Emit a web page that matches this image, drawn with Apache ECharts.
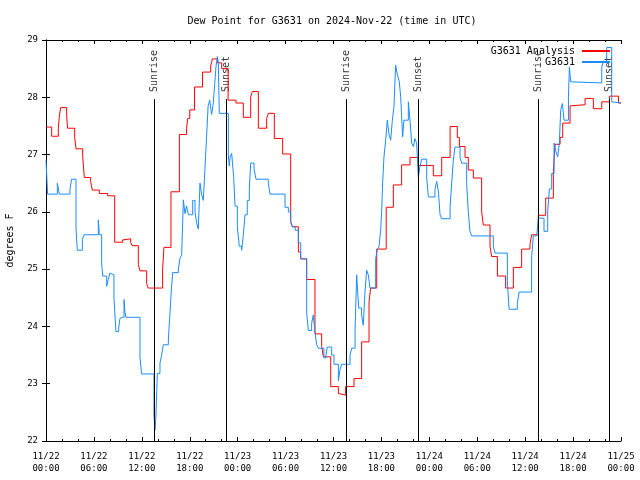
<!DOCTYPE html>
<html>
<head>
<meta charset="utf-8">
<script src="https://cdn.jsdelivr.net/npm/echarts@6/dist/echarts.min.js"></script>
<style>
html,body{margin:0;padding:0;background:#fff;}
#chart{width:640px;height:480px;}
</style>
</head>
<body>
<div id="chart"></div>
<script>
// ---- data (hours since 2024-11-22 00:00 UTC, dew point in °F) ----
const titleText = 'Dew Point for G3631 on 2024-Nov-22 (time in UTC)';
const seriesNames = ['G3631 Analysis', 'G3631'];
const xTickLabels = ['11/22\n00:00','11/22\n06:00','11/22\n12:00','11/22\n18:00',
  '11/23\n00:00','11/23\n06:00','11/23\n12:00','11/23\n18:00',
  '11/24\n00:00','11/24\n06:00','11/24\n12:00','11/24\n18:00','11/25\n00:00'];
const sunriseHours = [13.56, 37.6, 61.65];
const sunsetHours = [22.58, 46.62, 70.55];
const eventLineTop = 27.97;

const analysis = [
 [0,27.48],[0.71,27.32],[1.54,27.46],[1.67,27.67],[1.84,27.82],[2.59,27.67],[2.7,27.46],
 [3.59,27.3],[3.76,27.10],[4.59,26.97],[4.8,26.60],[5.59,26.53],[5.8,26.38],[6.68,26.32],
 [7.72,26.28],[8.6,25.47],[9.6,25.51],[9.77,25.53],[10.6,25.47],[10.77,25.41],[11.56,25.08],
 [11.77,24.97],[12.6,24.75],[12.8,24.67],[14.6,25.0],[14.77,25.38],[15.65,26.35],[16.7,27.35],
 [17.6,27.45],[17.74,27.63],[18.0,27.78],[18.6,28.18],[19.6,28.44],[20.62,28.55],[20.74,28.61],
 [20.83,28.67],[21.5,28.6],[22.0,28.5],[22.8,27.95],[23.79,27.9],[24.71,27.65],[25.63,28.01],
 [25.84,28.1],[26.59,27.46],[27.63,27.63],[27.84,27.72],[28.59,27.28],[29.63,27.01],[30.64,25.83],
 [30.85,25.74],[31.6,25.3],[31.89,25.18],[32.64,24.82],[33.68,23.87],[34.52,23.65],[34.73,23.47],
 [35.65,22.95],[36.61,22.83],[36.82,22.80],[37.52,22.95],[38.57,23.09],[39.52,23.73],[40.45,24.43],
 [40.65,24.67],[41.41,25.35],[42.6,26.08],[43.49,26.47],[44.53,26.82],[45.58,26.95],[46.62,26.81],
 [48.5,26.63],[49.55,26.95],[50.6,27.49],[51.5,27.3],[51.76,27.14],[52.47,26.95],[52.88,26.73],
 [53.51,26.59],[54.55,26.0],[54.76,25.77],[55.6,25.4],[55.8,25.22],[56.52,24.88],[57.56,24.67],
 [58.52,25.03],[59.56,25.35],[60.6,25.43],[60.81,25.6],[61.65,25.94],[62.57,26.24],[63.53,26.7],
 [63.74,27.18],[64.37,27.3],[64.7,27.55],[65.62,27.85],[65.83,27.87],[67.5,27.98],[68.54,27.8],
 [69.59,27.92],[70.55,28.02],[71.68,27.9],[72,27.9]
];

const observed = [
 [0,26.9],[0.2,26.31],[1.42,26.5],[1.67,26.31],[3.0,26.4],[3.21,26.57],[3.76,25.7],[3.92,25.33],
 [4.55,25.52],[4.76,25.6],[6.55,25.86],[6.68,25.6],[6.97,25.1],[7.1,24.88],[7.6,24.7],[7.8,24.82],
 [8.0,24.93],[8.22,24.9],[8.51,24.5],[8.76,23.91],[9.1,23.97],[9.26,24.14],[9.47,24.17],[9.77,24.47],
 [9.89,24.25],[10.0,24.16],[11.77,23.45],[11.98,23.17],[13.52,22.45],[13.65,22.19],[13.77,22.45],
 [13.94,23.18],[14.27,23.36],[14.48,23.5],[14.69,23.68],[15.32,23.76],[15.52,24.23],[15.73,24.7],
 [15.86,24.94],[16.57,25.0],[16.78,25.19],[16.99,25.25],[17.2,26.21],[17.4,25.97],[17.6,26.1],
 [17.83,25.95],[18.37,26.2],[18.66,26.0],[18.87,25.8],[19.07,25.7],[19.28,26.5],[19.49,26.3],
 [19.7,26.2],[19.9,26.75],[20.1,27.3],[20.3,27.85],[20.5,27.95],[20.74,27.7],[20.95,27.9],
 [21.16,28.3],[21.28,28.53],[21.45,28.71],[21.58,28.6],[21.7,27.72],[22.83,27.0],[22.95,26.8],
 [23.04,26.95],[23.25,27.02],[23.5,26.6],[23.67,26.1],[23.96,25.74],[24.2,25.4],[24.5,25.33],
 [24.71,25.6],[24.92,25.95],[25.2,26.2],[25.46,26.4],[25.63,26.85],[26.05,26.75],[26.3,26.57],
 [27.84,26.5],[28.05,26.31],[29.93,26.08],[30.35,26.0],[30.64,25.83],[30.85,25.74],[31.2,25.68],
 [31.6,25.46],[31.89,25.18],[32.64,24.23],[32.85,23.93],[33.26,24.05],[33.47,24.2],[33.68,23.9],
 [33.89,23.68],[34.1,23.62],[34.8,23.45],[35.06,23.5],[35.22,23.64],[35.77,23.5],[36.06,23.34],
 [36.61,23.05],[36.82,23.25],[37.03,23.34],[38.07,23.5],[38.28,23.62],[38.7,23.94],[38.9,24.9],
 [39.03,24.6],[39.16,24.32],[39.52,24.2],[39.73,24.02],[39.94,24.6],[40.15,24.98],[40.36,24.9],
 [40.57,24.67],[41.28,25.18],[41.49,25.35],[41.7,25.39],[41.9,25.68],[42.03,26.0],[42.15,26.5],
 [42.32,26.96],[42.53,27.25],[42.74,27.6],[42.95,27.35],[43.16,27.25],[43.37,27.6],[43.57,27.84],
 [43.78,28.56],[43.99,28.4],[44.24,28.27],[44.41,28.01],[44.66,27.31],[44.82,27.6],[45.37,27.92],
 [45.58,27.6],[45.79,27.2],[46.0,27.14],[46.2,27.28],[46.41,27.2],[46.62,26.61],[46.83,26.79],
 [47.04,26.92],[47.67,26.6],[47.88,26.26],[48.71,26.4],[48.92,26.53],[49.14,26.35],[49.34,25.95],
 [49.55,25.88],[50.6,26.1],[50.8,26.5],[51.0,26.9],[51.21,27.13],[51.84,26.95],[52.05,26.85],
 [52.67,26.5],[52.88,26.0],[53.09,25.66],[53.3,25.58],[56.01,25.4],[56.22,25.28],[57.77,24.8],
 [57.98,24.3],[59.02,24.4],[59.23,24.6],[60.81,25.2],[61.02,25.58],[61.44,25.61],[61.65,25.89],
 [62.36,25.66],[62.82,26.0],[63.03,26.4],[63.32,26.67],[63.62,27.2],[63.86,27.05],[64.07,26.96],
 [64.28,27.2],[64.45,27.78],[64.66,27.89],[64.87,27.6],[65.42,28.0],[65.54,28.53],[65.7,28.27],
 [65.91,28.25],[69.59,28.53],[69.8,28.62],[70.21,28.87],[70.84,27.92],[71.05,27.9],[72,27.9]
];

// ---- chart ----
const FONT = '"DejaVu Sans Mono", "Liberation Mono", monospace';
const events = sunriseHours.map(t => ({name: 'Sunrise', t}))
  .concat(sunsetHours.map(t => ({name: 'Sunset', t})));

const chart = echarts.init(document.getElementById('chart'), null, {renderer: 'canvas'});

const xBase = {
  type: 'value', min: 0, max: 72, interval: 6,
  axisLine: {show: true, lineStyle: {color: '#000', width: 1}},
  axisTick: {show: true, inside: true, length: 4, lineStyle: {color: '#000'}},
  minorTick: {show: true, splitNumber: 3, length: 2, lineStyle: {color: '#000'}},
  splitLine: {show: false}, minorSplitLine: {show: false}
};
const yBase = {
  type: 'value', min: 22, max: 29, interval: 1,
  axisLine: {show: true, lineStyle: {color: '#000', width: 1}},
  axisTick: {show: true, inside: true, length: 4, lineStyle: {color: '#000'}},
  splitLine: {show: false}
};

chart.setOption({
  animation: false,
  backgroundColor: '#fff',
  title: {
    text: titleText, left: 327, top: 11, textAlign: 'center',
    textStyle: {fontFamily: FONT, fontSize: 10, fontWeight: 'normal', color: '#000'}
  },
  legend: {
    data: seriesNames, orient: 'vertical', right: 25, top: 41, align: 'right',
    itemWidth: 28, itemHeight: 2, itemGap: 1, icon: 'rect',
    textStyle: {fontFamily: FONT, fontSize: 10, color: '#000', padding: [0, 2, 0, 0]},
    selectedMode: false
  },
  grid: {left: 46, right: 19, top: 40, bottom: 39, containLabel: false, outerBoundsMode: 'none'},
  xAxis: [
    Object.assign({}, xBase, {
      position: 'bottom',
      axisLabel: {
        show: true, margin: 10, color: '#000', fontFamily: FONT, fontSize: 9, lineHeight: 12,
        formatter: v => xTickLabels[Math.round(v / 6)] || ''
      }
    }),
    Object.assign({}, xBase, {position: 'top', axisLabel: {show: false}})
  ],
  yAxis: [
    Object.assign({}, yBase, {
      position: 'left',
      name: 'degrees F', nameLocation: 'middle', nameGap: 31, nameRotate: 90,
      nameTextStyle: {fontFamily: FONT, fontSize: 10, color: '#000'},
      axisLabel: {show: true, margin: 8, color: '#000', fontFamily: FONT, fontSize: 9}
    }),
    Object.assign({}, yBase, {position: 'right', axisLabel: {show: false}})
  ],
  series: [
    {
      name: 'events', type: 'scatter', xAxisIndex: 0, yAxisIndex: 0,
      symbolSize: 0, silent: true,
      data: events.map(e => ({name: e.name, value: [e.t, eventLineTop]})),
      label: {
        show: true, formatter: p => p.name, position: 'top', distance: 7,
        rotate: 90, align: 'left', verticalAlign: 'middle',
        fontFamily: FONT, fontSize: 10, color: '#000'
      },
      markLine: {
        silent: true, symbol: ['none', 'none'], animation: false,
        label: {show: false},
        lineStyle: {color: '#000', width: 1, type: 'solid'},
        emphasis: {disabled: true},
        data: events.map(e => [{coord: [e.t, 22]}, {coord: [e.t, eventLineTop]}])
      }
    },
    {
      name: seriesNames[0], type: 'line', step: 'end', data: analysis,
      showSymbol: false, symbol: 'none', color: '#ff0000',
      lineStyle: {color: '#ff0000', width: 1}
    },
    {
      name: seriesNames[1], type: 'line', step: 'end', data: observed,
      showSymbol: false, symbol: 'none', color: '#1a8cff',
      lineStyle: {color: '#1a8cff', width: 1}
    }
  ]
});
</script>
</body>
</html>
